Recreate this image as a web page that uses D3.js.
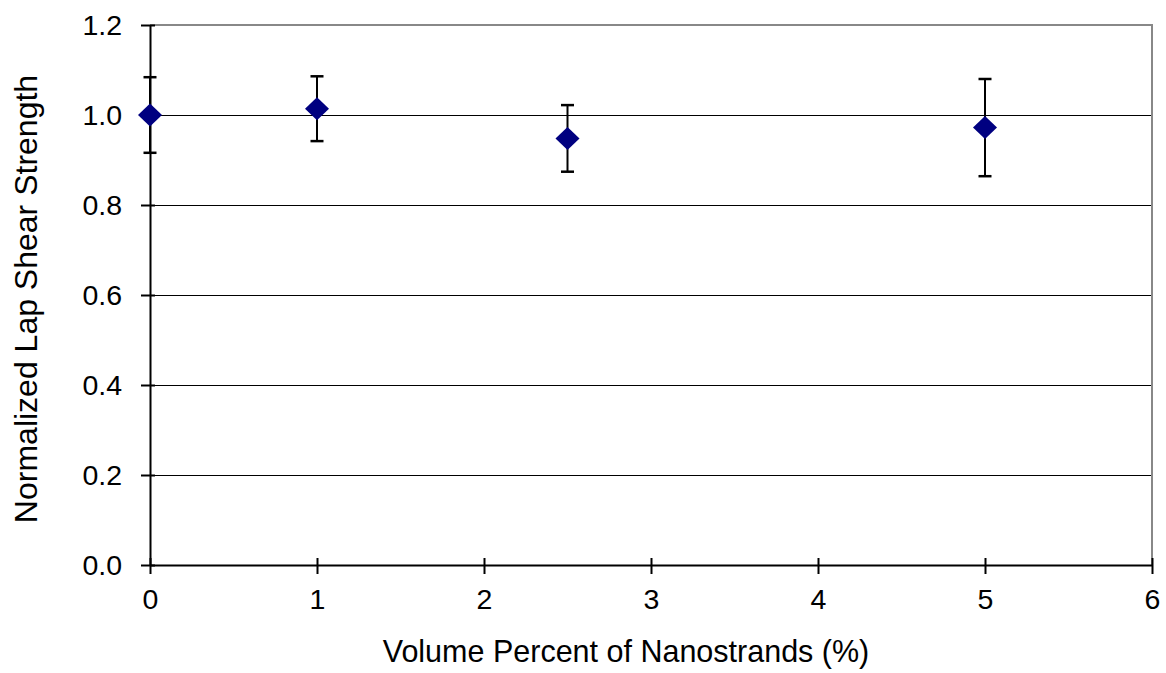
<!DOCTYPE html>
<html>
<head>
<meta charset="utf-8">
<script src="https://cdn.jsdelivr.net/npm/d3@7"></script>
<style>
  body { margin: 0; background: #fff; }
  text { font-family: "Liberation Sans", Arial, sans-serif; fill: #000; }
</style>
</head>
<body>
<div id="chart"></div>
<script>
// data
var xValues = [0, 1, 2.5, 5];
var yValues = [1.0, 1.014, 0.948, 0.972];
var errValues = [0.084, 0.072, 0.074, 0.108];
var xTicks = [0, 1, 2, 3, 4, 5, 6];
var yTicks = [0, 0.2, 0.4, 0.6, 0.8, 1.0, 1.2];

var margin = { top: 25, right: 14, bottom: 108, left: 150 };
var width = 1166 - margin.left - margin.right,
    height = 673 - margin.top - margin.bottom;

var svg = d3.select("#chart").append("svg")
    .attr("width", 1166)
    .attr("height", 673)
    .append("g")
    .attr("transform", "translate(" + margin.left + "," + margin.top + ")");

var x = d3.scaleLinear().domain([0, 6]).range([0, width]);
var y = d3.scaleLinear().domain([0, 1.2]).range([height, 0]);

// gridlines (half pixel so they stay crisp)
svg.selectAll(".grid")
    .data(yTicks.filter(function (d) { return d > 0 && d < 1.2; }))
    .enter().append("line")
    .attr("class", "grid")
    .attr("x1", 0).attr("x2", width)
    .attr("y1", function (d) { return Math.round(y(d)) + 0.5; })
    .attr("y2", function (d) { return Math.round(y(d)) + 0.5; })
    .attr("stroke", "#000")
    .attr("stroke-width", 1);

// top and right border (gray)
svg.append("path")
    .attr("d", "M0," + y(1.2) + "H" + x(6) + "V" + y(0))
    .attr("fill", "none")
    .attr("stroke", "#888")
    .attr("stroke-width", 2);

// axes
var xAxis = d3.axisBottom(x).tickValues(xTicks).tickFormat(d3.format("d"))
    .tickSizeInner(9).tickSizeOuter(0).tickPadding(15);
var gx = svg.append("g")
    .attr("transform", "translate(0," + height + ")")
    .call(xAxis);

var yAxis = d3.axisLeft(y).tickValues(yTicks).tickFormat(d3.format(".1f"))
    .tickSizeInner(9).tickSizeOuter(0).tickPadding(19);
var gy = svg.append("g").call(yAxis);

[gx, gy].forEach(function (g) {
    g.select(".domain").attr("stroke", "#000").attr("stroke-width", 2);
    g.selectAll(".tick line").attr("stroke", "#000").attr("stroke-width", 2);
    g.selectAll(".tick text").style("font-size", "28.5px")
        .style("font-family", "'Liberation Sans', Arial, sans-serif");
});
// ticks cross the axis a little
gx.selectAll(".tick line").attr("y1", -7);
gy.selectAll(".tick line").attr("x1", 5);

// error bars
var pts = xValues.map(function (d, i) {
    return { x: d, y: yValues[i], e: errValues[i] };
});

var err = svg.selectAll(".err").data(pts).enter().append("g").attr("class", "err");
err.append("line")
    .attr("x1", function (d) { return x(d.x); })
    .attr("x2", function (d) { return x(d.x); })
    .attr("y1", function (d) { return y(d.y + d.e); })
    .attr("y2", function (d) { return y(d.y - d.e); })
    .attr("stroke", "#000").attr("stroke-width", 2);
[1, -1].forEach(function (s) {
    err.append("line")
        .attr("x1", function (d) { return x(d.x) - 6.5; })
        .attr("x2", function (d) { return x(d.x) + 6.5; })
        .attr("y1", function (d) { return y(d.y + s * d.e); })
        .attr("y2", function (d) { return y(d.y + s * d.e); })
        .attr("stroke", "#000").attr("stroke-width", 2.5);
});

// diamond markers
svg.selectAll(".pt").data(pts).enter().append("path")
    .attr("class", "pt")
    .attr("d", "M0,-11.5L12,0L0,11.5L-12,0Z")
    .attr("transform", function (d) { return "translate(" + x(d.x) + "," + y(d.y) + ")"; })
    .attr("fill", "#000080");

// axis titles
svg.append("text")
    .attr("x", width / 2 - 25)
    .attr("y", height + 97)
    .attr("text-anchor", "middle")
    .style("font-size", "30.5px")
    .text("Volume Percent of Nanostrands (%)");

svg.append("text")
    .attr("transform", "translate(" + (37 - margin.left) + "," + (299 - margin.top) + ") rotate(-90)")
    .attr("text-anchor", "middle")
    .style("font-size", "32px")
    .text("Normalized Lap Shear Strength");
</script>
</body>
</html>
